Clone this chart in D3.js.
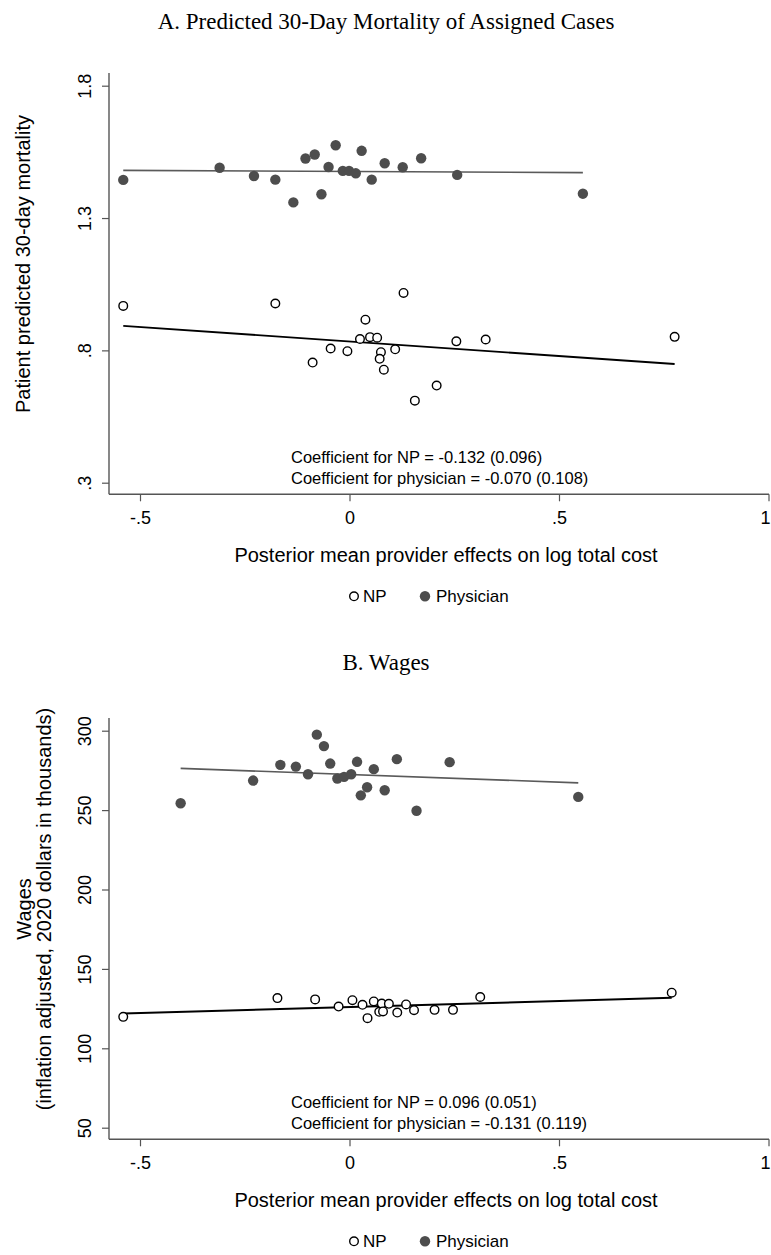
<!DOCTYPE html>
<html>
<head>
<meta charset="utf-8">
<script src="https://cdn.jsdelivr.net/npm/d3@7"></script>
<style>
  html, body { margin: 0; padding: 0; background: #fff; }
  svg { display: block; }
  text { font-family: "Liberation Sans", Arial, sans-serif; fill: #000; }
  .title { font-family: "Liberation Serif", "Times New Roman", serif; }
</style>
</head>
<body>
<svg id="chart" width="771" height="1255"></svg>
<script>
// Shared x axis: posterior mean provider effects on log total cost
const xTicks = [-0.5, 0, 0.5, 1];
const xTickLabels = ["-.5", "0", ".5", "1"];

// Panel A: predicted 30-day mortality
const mortTicks = [0.3, 0.8, 1.3, 1.8];
const mortTickLabels = [".3", ".8", "1.3", "1.8"];

const npMortX = [-0.540, -0.177, 0.129, 0.038, 0.025, 0.049, 0.066, -0.045, -0.005, -0.088,
                 0.075, 0.072, 0.082, 0.109, 0.255, 0.325, 0.776, 0.208, 0.156];
const npMortY = [0.968, 0.977, 1.017, 0.916, 0.843, 0.850, 0.848, 0.807, 0.797, 0.754,
                 0.793, 0.768, 0.727, 0.804, 0.834, 0.841, 0.851, 0.667, 0.610];

const physMortX = [-0.540, -0.310, -0.228, -0.177, -0.134, -0.105, -0.083, -0.067, -0.050, -0.033,
                   -0.016, -0.001, 0.015, 0.029, 0.053, 0.084, 0.127, 0.171, 0.257, 0.557];
const physMortY = [1.444, 1.490, 1.459, 1.445, 1.359, 1.525, 1.540, 1.390, 1.493, 1.575,
                   1.478, 1.478, 1.469, 1.554, 1.445, 1.507, 1.492, 1.526, 1.463, 1.392];

// Fitted lines: [intercept, slope]
const npMortFit = [0.8335, -0.1093];
const physMortFit = [1.4758, -0.0077];

// Panel B: wages (thousands of 2020 dollars)
const wageTicks = [50, 100, 150, 200, 250, 300];
const wageTickLabels = ["50", "100", "150", "200", "250", "300"];

const npWageX = [-0.540, -0.172, -0.082, -0.026, 0.007, 0.031, 0.043, 0.058, 0.077, 0.071,
                 0.080, 0.094, 0.114, 0.135, 0.154, 0.203, 0.247, 0.312, 0.769];
const npWageY = [119.8, 131.6, 130.8, 126.3, 130.3, 127.4, 119.0, 129.5, 128.2, 123.0,
                 123.2, 128.0, 122.5, 127.6, 124.0, 124.2, 124.2, 132.3, 135.0];

const physWageX = [-0.403, -0.230, -0.165, -0.128, -0.099, -0.078, -0.061, -0.046, -0.029, -0.013,
                   0.004, 0.018, 0.027, 0.042, 0.058, 0.084, 0.113, 0.160, 0.239, 0.546];
const physWageY = [254.3, 268.6, 278.5, 277.4, 272.6, 297.5, 290.3, 279.3, 269.9, 270.9,
                   272.6, 280.4, 259.3, 264.4, 275.8, 262.5, 282.1, 249.6, 280.2, 258.3];

const npWageFit = [125.98, 7.56];
const physWageFit = [272.4, -9.6];

const legendLabels = ["NP", "Physician"];

const panels = [
  {
    title: "A. Predicted 30-Day Mortality of Assigned Cases",
    yTitle: ["Patient predicted 30-day mortality"],
    yTicks: mortTicks, yTickLabels: mortTickLabels,
    yDomain: [0.3, 1.8],
    np: { x: npMortX, y: npMortY, fit: npMortFit },
    phys: { x: physMortX, y: physMortY, fit: physMortFit },
    notes: ["Coefficient for NP = -0.132 (0.096)", "Coefficient for physician = -0.070 (0.108)"],
    top: 0, titleY: 29
  },
  {
    title: "B. Wages",
    yTitle: ["Wages", "(inflation adjusted, 2020 dollars in thousands)"],
    yTicks: wageTicks, yTickLabels: wageTickLabels,
    yDomain: [50, 300],
    np: { x: npWageX, y: npWageY, fit: npWageFit },
    phys: { x: physWageX, y: physWageY, fit: physWageFit },
    notes: ["Coefficient for NP = 0.096 (0.051)", "Coefficient for physician = -0.131 (0.119)"],
    top: 645, titleY: 25
  }
];

const svg = d3.select("#chart");
const W = 771;
const axisColor = "#555";
const physColor = "#4d4d4d";
const tickFont = 18, titleFont = 20, noteFont = 16.5, legendFont = 17;

const x = d3.scaleLinear().domain([-0.5, 1]).range([140, 768.5]);
const axisLeft = 109;

panels.forEach((p, i) => {
  const g = svg.append("g").attr("transform", `translate(0,${p.top})`);
  // plot frame in panel-local pixels
  const yTop = 85.7, yBot = 482.7;           // first and last y tick
  const frameTop = 73, frameBot = 494.3;       // axis line extent
  const y = d3.scaleLinear().domain(p.yDomain).range([yBot, yTop]);

  g.append("text").attr("class", "title")
    .attr("x", 386).attr("y", p.titleY)
    .attr("text-anchor", "middle").attr("font-size", 23)
    .text(p.title);

  // y axis
  const yAxis = d3.axisLeft(y).tickValues(p.yTicks)
    .tickFormat((d, k) => p.yTickLabels[k]).tickSize(7);
  const ya = g.append("g").attr("transform", `translate(${axisLeft},0)`).call(yAxis);
  ya.select(".domain").remove();
  ya.selectAll(".tick line").attr("stroke", axisColor).attr("stroke-width", 1.2);
  ya.selectAll(".tick text")
    .attr("font-family", "Liberation Sans, Arial, sans-serif")
    .attr("font-size", tickFont).attr("fill", "#000")
    .attr("x", null)
    .attr("text-anchor", "middle")
    .attr("transform", "translate(-24,0) rotate(-90)")
    .attr("y", 0).attr("dy", "0.36em");
  g.append("line")
    .attr("x1", axisLeft).attr("x2", axisLeft)
    .attr("y1", frameTop).attr("y2", frameBot)
    .attr("stroke", axisColor).attr("stroke-width", 1.4);

  // x axis
  const xAxis = d3.axisBottom(x).tickValues(xTicks)
    .tickFormat((d, k) => xTickLabels[k]).tickSize(7).tickPadding(10);
  const xa = g.append("g").attr("transform", `translate(0,${frameBot})`).call(xAxis);
  xa.select(".domain").remove();
  xa.selectAll(".tick line").attr("stroke", axisColor).attr("stroke-width", 1.2);
  xa.selectAll(".tick text")
    .attr("font-family", "Liberation Sans, Arial, sans-serif")
    .attr("font-size", tickFont).attr("fill", "#000");
  // keep the last label inside the page
  xa.selectAll(".tick").each(function () {
    const t = d3.select(this);
    const node = t.select("text").node();
    const bb = node.getBBox();
    const tx = x(t.datum());
    const over = tx + bb.x + bb.width - (W - 1);
    if (over > 0) t.select("text").attr("x", -over);
  });
  g.append("line")
    .attr("x1", axisLeft).attr("x2", x(1) + 0.5)
    .attr("y1", frameBot).attr("y2", frameBot)
    .attr("stroke", axisColor).attr("stroke-width", 1.4);

  // y axis title
  const yTitleCy = 264;
  const nLines = p.yTitle.length;
  p.yTitle.forEach((t, k) => {
    const cx = nLines === 1 ? 23 : 24 + k * 20;
    g.append("text")
      .attr("transform", `translate(${cx},${yTitleCy}) rotate(-90)`)
      .attr("text-anchor", "middle").attr("dy", "0.36em")
      .attr("font-size", titleFont)
      .text(t);
  });

  // x axis title
  g.append("text")
    .attr("x", 446).attr("y", frameBot + 68)
    .attr("text-anchor", "middle").attr("font-size", titleFont)
    .text("Posterior mean provider effects on log total cost");

  // fitted lines
  const fitLine = (s, color, w) => {
    const [b0, b1] = s.fit;
    const ext = d3.extent(s.x);
    g.append("line")
      .attr("x1", x(ext[0])).attr("y1", y(b0 + b1 * ext[0]))
      .attr("x2", x(ext[1])).attr("y2", y(b0 + b1 * ext[1]))
      .attr("stroke", color).attr("stroke-width", w);
  };
  fitLine(p.phys, "#5a5a5a", 1.6);
  fitLine(p.np, "#000", 1.9);

  // markers
  g.append("g").selectAll("circle")
    .data(d3.range(p.phys.x.length)).join("circle")
    .attr("cx", k => x(p.phys.x[k])).attr("cy", k => y(p.phys.y[k]))
    .attr("r", 5.2).attr("fill", physColor);
  g.append("g").selectAll("circle")
    .data(d3.range(p.np.x.length)).join("circle")
    .attr("cx", k => x(p.np.x[k])).attr("cy", k => y(p.np.y[k]))
    .attr("r", 4.3).attr("fill", "#fff").attr("stroke", "#000").attr("stroke-width", 1.4);

  // coefficient notes
  p.notes.forEach((t, k) => {
    g.append("text")
      .attr("x", 291).attr("y", frameBot - 31 + k * 21)
      .attr("font-size", noteFont)
      .text(t);
  });

  // legend
  const ly = frameBot + 102;
  g.append("circle").attr("cx", 354).attr("cy", ly).attr("r", 4.3)
    .attr("fill", "#fff").attr("stroke", "#000").attr("stroke-width", 1.4);
  g.append("text").attr("x", 363).attr("y", ly).attr("dy", "0.36em")
    .attr("font-size", legendFont).text(legendLabels[0]);
  g.append("circle").attr("cx", 425).attr("cy", ly).attr("r", 5.2).attr("fill", physColor);
  g.append("text").attr("x", 436).attr("y", ly).attr("dy", "0.36em")
    .attr("font-size", legendFont).text(legendLabels[1]);
});
</script>
</body>
</html>
